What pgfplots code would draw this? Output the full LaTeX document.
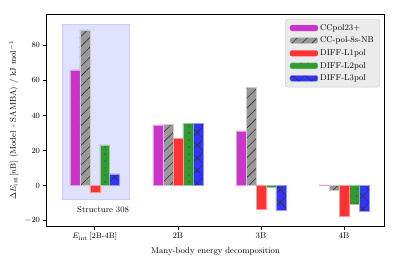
\documentclass[border=0pt]{standalone}
\usepackage{pgfplots}
\pgfplotsset{compat=1.18}
\usetikzlibrary{patterns.meta}
\definecolor{cmag}{rgb}{0.8,0.2,0.8}
\definecolor{cgray}{rgb}{0.6,0.6,0.6}
\definecolor{cred}{rgb}{1,0.2,0.2}
\definecolor{cgreen}{rgb}{0.2,0.6,0.2}
\definecolor{cblue}{rgb}{0.2,0.2,1}
\definecolor{cshade}{rgb}{0.88,0.88,1}
\definecolor{cshadeedge}{rgb}{0.8,0.8,1}
\pgfplotsset{
  mylegend/.style={legend image code/.code={\path[##1,draw=none] (0bp,-3bp) rectangle (28bp,3bp);}},
}
\begin{document}
\begin{tikzpicture}
\begin{axis}[
  scale only axis, width=337bp, height=212bp,
  xmin=-0.575, xmax=3.48, ymin=-23, ymax=97.8,
  xtick={0,1,2,3},
  xticklabels={{$E_{\mathrm{int}}\,[\mathrm{2B}$-$\mathrm{4B}]$},2B,3B,4B},
  ytick={-20,0,20,40,60,80},
  tick align=outside, xtick pos=bottom, ytick pos=left,
  major tick length=3.5bp,
  axis line style={line width=1bp},
  tick style={black, line width=0.6bp},
  font=\fontsize{8.5}{10}\selectfont,
  ticklabel style={font=\fontsize{8.5}{10}\selectfont},
  xlabel={Many-body energy decomposition},
  ylabel={$\Delta E_{\mathrm{int}}[n\mathrm{B}]$ (Model - SAMBA) / kJ mol$^{-1}$},
  legend style={at={(0.988,0.976)}, anchor=north east, fill=black!8, draw=black!20,
    rounded corners=2bp, font=\fontsize{8.5}{10}\selectfont, row sep=1.2bp,
    inner xsep=4bp, inner ysep=3bp, cells={anchor=west}},
]
\coordinate (o) at (rel axis cs:0,0);
\draw[fill=cshade, draw=cshadeedge, line width=0.8bp] (axis cs:-0.39,-7.6) rectangle (axis cs:0.42,92.1);
\node at (axis cs:0.1,-13.8) {Structure 308};

\addplot[ybar, bar width=0.12, bar shift=-0.24, fill=cmag, draw=cmag!50, line width=0.5bp, mylegend]
  coordinates {(0,65.9) (1,34.6) (2,31.2) (3,0.4)};
\addlegendentry{CCpol23+}
\addplot[ybar, bar width=0.12, bar shift=-0.12, fill=cgray, draw=cgray!50, line width=0.5bp,
  postaction={pattern={Lines[angle=45,distance=7bp,line width=0.6bp]}, pattern color=black!80}, mylegend]
  coordinates {(0,88.7) (1,35.0) (2,56.1) (3,-2.8)};
\addlegendentry{CC-pol-8s-NB}
\addplot[ybar, bar width=0.12, bar shift=0, fill=cred, draw=cred!50, line width=0.5bp, mylegend]
  coordinates {(0,-4.0) (1,27.0) (2,-13.7) (3,-17.3)};
\addlegendentry{DIFF-L1pol}
\addplot[ybar, bar width=0.12, bar shift=0.12, fill=cgreen, draw=cgreen!50, line width=0.5bp,
  postaction={pattern={Dots[distance=7bp,radius=0.7bp]}, pattern color=black!80}, mylegend]
  coordinates {(0,23.2) (1,35.5) (2,-0.9) (3,-10.8)};
\addlegendentry{DIFF-L2pol}
\addplot[ybar, bar width=0.12, bar shift=0.24, fill=cblue, draw=cblue!50, line width=0.5bp,
  postaction={pattern={Hatch[angle=45,distance=9bp,line width=0.6bp]}, pattern color=black!80}, mylegend]
  coordinates {(0,6.7) (1,35.5) (2,-14.0) (3,-14.8)};
\addlegendentry{DIFF-L3pol}
\end{axis}
\path (o) ++(-47bp,-40bp) rectangle ++(399bp,266bp);
\end{tikzpicture}
\end{document}
